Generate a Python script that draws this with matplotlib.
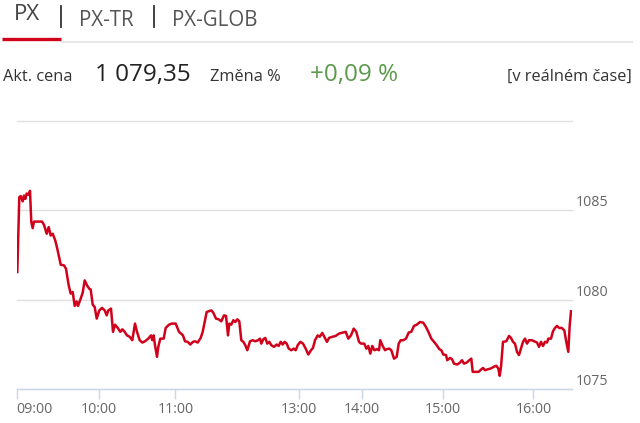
import matplotlib
matplotlib.use("Agg")
import matplotlib.pyplot as plt
from matplotlib.lines import Line2D
import numpy as np

plt.rcParams['font.family'] = ['Open Sans', 'DejaVu Sans']

# ---- data (ordinal axis positions, index value) ----
pos = [17.3, 19.3, 20.7, 22.7, 24.0, 25.3, 26.7, 28.7, 30.0, 31.3, 32.7, 34.0, 42.0, 44.0,
       46.7, 48.7, 50.7, 52.7, 55.3, 57.3, 60.7, 64.0, 66.0, 68.7, 70.7, 72.7, 74.7, 76.7,
       78.0, 80.7, 82.7, 84.7, 87.3, 89.3, 90.7, 92.7, 94.7, 96.7, 99.3, 102.0, 104.7, 106.7,
       108.3, 111.0, 113.0, 115.0, 117.7, 120.3, 122.3, 124.3, 127.0, 129.7, 132.3, 135.0,
       137.0, 139.7, 142.3, 145.0, 148.3, 151.0, 152.3, 153.7, 155.0, 157.0, 158.3, 160.3,
       163.7, 165.7, 169.0, 171.7, 175.7, 179.0, 183.0, 185.0, 187.7, 190.3, 193.0, 195.0,
       197.7, 200.7, 202.7, 204.7, 206.7, 208.7, 211.3, 213.3, 216.0, 218.7, 221.3, 224.0,
       226.0, 228.0, 229.3, 231.3, 233.3, 235.3, 237.3, 239.3, 241.3, 243.3, 245.3, 247.3,
       250.0, 252.7, 255.3, 258.0, 260.0, 261.3, 263.3, 265.3, 267.3, 269.3, 271.3, 274.0,
       276.7, 278.7, 280.7, 282.7, 284.7, 286.7, 288.7, 291.3, 293.7, 295.7, 297.7, 300.3,
       303.0, 305.7, 308.3, 311.0, 313.0, 315.0, 317.7, 319.7, 322.3, 324.3, 327.0, 329.0,
       332.3, 335.7, 339.0, 343.0, 345.7, 348.3, 351.0, 353.7, 356.3, 359.0, 361.0, 364.3,
       366.3, 368.3, 370.3, 372.3, 374.3, 377.0, 379.0, 380.3, 382.3, 385.0, 386.7, 389.3,
       391.3, 394.0, 396.7, 398.7, 400.7, 403.3, 406.0, 408.7, 411.3, 414.0, 416.7, 420.0,
       423.3, 426.0, 428.7, 431.3, 434.0, 436.7, 439.3, 441.3, 443.3, 446.0, 447.3, 450.0,
       452.0, 454.0, 457.3, 460.0, 462.0, 464.0, 466.7, 469.3, 471.3, 472.7, 476.0, 478.7,
       480.3, 483.0, 485.0, 487.7, 491.0, 493.7, 496.3, 498.3, 499.7, 501.0, 503.0, 506.3,
       509.0, 511.0, 513.0, 515.0, 517.0, 519.0, 521.0, 523.0, 525.0, 527.0, 529.0, 531.7,
       534.3, 537.0, 539.0, 541.0, 543.0, 545.0, 547.0, 548.3, 551.0, 553.0, 555.0, 557.0,
       559.0, 561.7, 564.3, 566.3, 568.3, 569.7, 571.0]
values = [1081.55, 1085.74, 1085.80, 1085.50, 1085.83, 1085.64, 1085.94, 1085.87, 1086.09,
          1084.34, 1084.00, 1084.37, 1084.37, 1084.19, 1083.69, 1084.06, 1083.59, 1083.69,
          1083.31, 1082.85, 1081.96, 1081.92, 1081.73, 1080.80, 1080.34, 1080.43, 1079.65,
          1079.90, 1079.65, 1080.06, 1080.39, 1081.08, 1080.77, 1080.61, 1080.57, 1079.72,
          1079.59, 1078.94, 1079.40, 1079.54, 1079.40, 1079.12, 1079.40, 1079.50, 1078.20,
          1078.60, 1078.42, 1078.20, 1078.34, 1078.23, 1078.00, 1077.92, 1077.73, 1078.66,
          1078.20, 1077.73, 1077.60, 1077.67, 1077.82, 1078.00, 1077.73, 1078.00, 1077.45,
          1076.80, 1077.36, 1077.82, 1077.82, 1078.42, 1078.60, 1078.66, 1078.66, 1078.20,
          1078.00, 1077.67, 1077.64, 1077.49, 1077.64, 1077.67, 1077.60, 1077.86, 1078.20,
          1078.75, 1079.31, 1079.35, 1079.40, 1079.27, 1078.94, 1078.90, 1078.79, 1079.12,
          1079.09, 1078.00, 1078.66, 1078.60, 1078.85, 1078.75, 1078.90, 1078.79, 1077.73,
          1077.64, 1077.45, 1077.17, 1077.67, 1077.73, 1077.67, 1077.73, 1077.82, 1077.54,
          1077.78, 1077.86, 1077.54, 1077.64, 1077.45, 1077.36, 1077.49, 1077.41, 1077.64,
          1077.49, 1077.64, 1077.54, 1077.26, 1077.17, 1077.26, 1077.17, 1077.45, 1077.64,
          1077.54, 1077.26, 1076.93, 1077.17, 1077.30, 1077.73, 1078.00, 1077.92, 1078.14,
          1077.92, 1077.64, 1077.86, 1077.92, 1077.97, 1078.10, 1078.16, 1078.20, 1077.82,
          1078.00, 1078.38, 1078.20, 1077.64, 1077.54, 1077.54, 1077.26, 1077.41, 1076.98,
          1077.41, 1077.17, 1077.23, 1077.17, 1077.73, 1077.45, 1077.17, 1077.23, 1077.26,
          1077.17, 1076.70, 1076.80, 1077.54, 1077.73, 1077.73, 1077.82, 1078.16, 1078.20,
          1078.53, 1078.60, 1078.75, 1078.71, 1078.47, 1078.16, 1077.82, 1077.64, 1077.45,
          1077.23, 1077.17, 1076.93, 1076.90, 1076.61, 1076.74, 1076.67, 1076.42, 1076.37,
          1076.48, 1076.61, 1076.42, 1076.48, 1076.61, 1076.70, 1075.96, 1075.96, 1075.96,
          1076.05, 1076.18, 1076.05, 1076.10, 1076.15, 1076.24, 1076.30, 1076.15, 1075.74,
          1076.24, 1077.64, 1077.67, 1077.97, 1077.86, 1077.64, 1077.54, 1077.08, 1076.90,
          1077.26, 1077.64, 1077.82, 1077.54, 1077.73, 1077.73, 1077.67, 1077.60, 1077.36,
          1077.64, 1077.41, 1077.64, 1077.60, 1077.82, 1077.82, 1078.23, 1078.42, 1078.53,
          1078.42, 1078.42, 1078.28, 1077.64, 1077.08, 1078.56, 1079.35]

tick_pos = [16.7, 99.0, 175.3, 299.0, 362.0, 442.7, 533.3]
tick_labels = ['09:00', '10:00', '11:00', '13:00', '14:00', '15:00', '16:00']
y_ticks = [1075, 1080, 1085, 1090]
y_labels = ['1075', '1080', '1085', '']

tabs = ['PX', 'PX-TR', 'PX-GLOB']
price_text = '1 079,35'
change_text = '+0,09 %'

# ---- figure ----
W, H = 640, 423
fig = plt.figure(figsize=(W / 100, H / 100), dpi=100)

def fx(px):
    return px / W

def fy(py):
    return 1 - py / H

ax = fig.add_axes([fx(16.7), fy(389), fx(572) - fx(16.7), fy(121) - fy(389)])
ax.plot(pos, values, color='#d0021b', lw=1.8, solid_joinstyle='round', zorder=3)
ax.set_xlim(16.7, 572)
ax.set_ylim(1075, 1090)

ax.set_yticks(y_ticks)
ax.set_yticklabels(y_labels)
ax.yaxis.tick_right()
ax.tick_params(axis='y', length=0, pad=3, labelsize=10.3, labelcolor='#666666')
for lab in ax.get_yticklabels():
    lab.set_verticalalignment('bottom')
ax.grid(axis='y', color='#e0e0e0', lw=1.0)
ax.set_xticks(tick_pos)
ax.set_xticklabels(tick_labels)
ax.tick_params(axis='x', direction='out', length=7.5, width=1, color='#ccd6eb',
               pad=1.5, labelsize=10.3, labelcolor='#666666')
ax.get_xticklabels()[0].set_horizontalalignment('left')
for s in ['top', 'left', 'right']:
    ax.spines[s].set_visible(False)
ax.spines['bottom'].set_color('#ccd6eb')
ax.spines['bottom'].set_linewidth(1)
for gl in ax.yaxis.get_gridlines():
    gl.set_clip_on(False)

# ---- header ----
fig.text(fx(14), fy(14.5), tabs[0], fontsize=16, color='#444444', va='center', ha='left')
fig.text(fx(79), fy(20), tabs[1], fontsize=14.8, color='#555555', va='center', ha='left')
fig.text(fx(172), fy(20), tabs[2], fontsize=14.8, color='#555555', va='center', ha='left')
for xs in (60.5, 153.5):
    fig.add_artist(Line2D([fx(xs), fx(xs)], [fy(6), fy(27)], color='#333333', lw=1.3))
fig.add_artist(Line2D([fx(2), fx(61)], [fy(39.5), fy(39.5)], color='#d0021b', lw=2.4,
                      solid_capstyle='butt'))
fig.add_artist(Line2D([fx(61), fx(633)], [fy(42.5), fy(42.5)], color='#e6e6e6', lw=1.4,
                      solid_capstyle='butt'))

fig.text(fx(3), fy(81), 'Akt. cena', fontsize=11.8, color='#333333', va='baseline', ha='left')
fig.text(fx(95), fy(81), price_text, fontsize=17.5, color='#222222', va='baseline', ha='left')
fig.text(fx(210), fy(81), 'Změna %', fontsize=11.8, color='#333333', va='baseline', ha='left')
fig.text(fx(310), fy(81), change_text, fontsize=17.5, color='#5b9a4c', va='baseline', ha='left')
fig.text(fx(632), fy(81), '[v reálném čase]', fontsize=11.8, color='#333333', va='baseline',
         ha='right')

fig.savefig('out.png', dpi=100)
